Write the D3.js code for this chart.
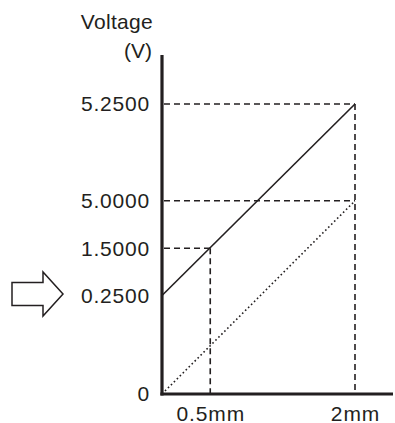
<!DOCTYPE html>
<html>
<head>
<meta charset="utf-8">
<script src="https://cdn.jsdelivr.net/npm/d3@7"></script>
<style>
  html, body { margin: 0; padding: 0; background: #fff; }
  svg { display: block; }
  text { font-family: "Liberation Sans", Arial, Helvetica, sans-serif; fill: #231f20; }
</style>
</head>
<body>
<svg id="chart" width="395" height="423"></svg>
<script>
// ---- data ----
const yTickValues = [0, 0.25, 1.5, 5.0, 5.25];
const yTickLabels = ["0", "0.2500", "1.5000", "5.0000", "5.2500"];
const xTickValues = [0.5, 2];
const xTickLabels = ["0.5mm", "2mm"];
const solidX = [0, 2];
const solidY = [0.25, 5.25];
const dottedX = [0, 2];
const dottedY = [0, 5.0];
// guide points [x, y] to which dashed drop lines are drawn
const guideX = [0.5, 2, 2];
const guideY = [1.5, 5.25, 5.0];

// ---- scales (schematic, piecewise y) ----
const svg = d3.select("#chart");
const x = d3.scaleLinear().domain([0, 2]).range([162, 355]);
const y = d3.scaleLinear().domain(yTickValues).range([394, 295.5, 248.3, 200.8, 104]);

const ink = "#231f20";

// dashed guides
const g = svg.append("g").attr("stroke", ink).attr("stroke-width", 1.6)
  .attr("stroke-dasharray", "6,4").attr("fill", "none");
guideX.forEach((gx, i) => {
  const gy = guideY[i];
  g.append("line").attr("x1", x(0) + 2).attr("y1", y(gy)).attr("x2", x(gx)).attr("y2", y(gy));
});
[[0.5, 1.5], [2, 5.25]].forEach(([gx, gy]) => {
  g.append("line").attr("x1", x(gx)).attr("y1", y(gy)).attr("x2", x(gx)).attr("y2", y(0) - 1);
});

// series
const line = d3.line().x(d => x(d[0])).y(d => y(d[1]));
svg.append("path").datum(solidX.map((v, i) => [v, solidY[i]]))
  .attr("d", line).attr("fill", "none").attr("stroke", ink).attr("stroke-width", 1.6);
svg.append("path").datum(dottedX.map((v, i) => [v, dottedY[i]]))
  .attr("d", line).attr("fill", "none").attr("stroke", ink).attr("stroke-width", 1.6)
  .attr("stroke-dasharray", "1.6,2.6");

// axes lines
svg.append("line").attr("x1", x(0)).attr("y1", 55).attr("x2", x(0)).attr("y2", y(0) + 1.5)
  .attr("stroke", ink).attr("stroke-width", 3.2);
svg.append("line").attr("x1", x(0) - 1.6).attr("y1", y(0)).attr("x2", 393).attr("y2", y(0))
  .attr("stroke", ink).attr("stroke-width", 3.2);

// axis labels via d3 axes
const yAxis = d3.axisLeft(y).tickValues(yTickValues)
  .tickFormat((d, i) => yTickLabels[i]).tickSize(0).tickPadding(12);
const ya = svg.append("g").attr("transform", `translate(${x(0)},0)`).call(yAxis);
ya.select(".domain").remove();
ya.selectAll("text").attr("font-size", 21).attr("font-family", "Liberation Sans, Arial, sans-serif")
  .attr("fill", ink).style("letter-spacing", "0.8px");

const xAxis = d3.axisBottom(x).tickValues(xTickValues)
  .tickFormat((d, i) => xTickLabels[i]).tickSize(0).tickPadding(12);
const xa = svg.append("g").attr("transform", `translate(0,${y(0)})`).call(xAxis);
xa.select(".domain").remove();
xa.selectAll("text").attr("font-size", 21).attr("font-family", "Liberation Sans, Arial, sans-serif")
  .attr("fill", ink).style("letter-spacing", "0.9px");

// y axis title
svg.append("text").attr("x", 153).attr("y", 29).attr("text-anchor", "end")
  .attr("font-size", 21).style("letter-spacing", "0.3px").text("Voltage");
svg.append("text").attr("x", 152).attr("y", 58).attr("text-anchor", "end")
  .attr("font-size", 21).text("(V)");

// hollow arrow
const ay = y(0.25) - 1.5;
const arrow = d3.path();
arrow.moveTo(12, ay - 11.5);
arrow.lineTo(43, ay - 11.5);
arrow.lineTo(43, ay - 22);
arrow.lineTo(63, ay);
arrow.lineTo(43, ay + 22);
arrow.lineTo(43, ay + 11.5);
arrow.lineTo(12, ay + 11.5);
arrow.closePath();
svg.append("path").attr("d", arrow.toString()).attr("fill", "#fff")
  .attr("stroke", ink).attr("stroke-width", 1.5).attr("stroke-linejoin", "miter");
</script>
</body>
</html>
